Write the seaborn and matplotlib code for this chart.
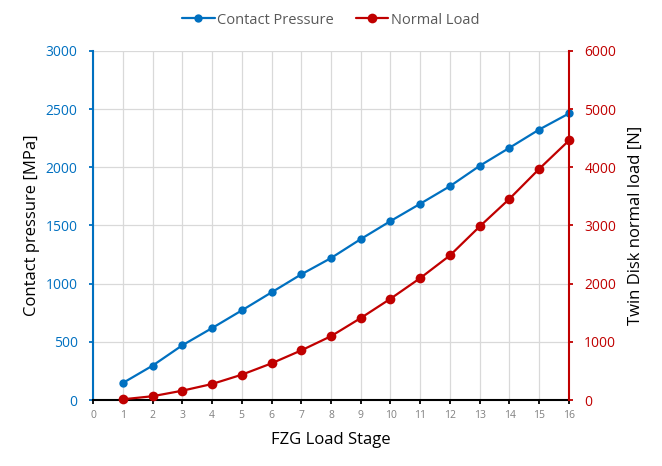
import matplotlib
matplotlib.use("Agg")
import matplotlib.pyplot as plt
import seaborn as sns
import pandas as pd

load_stage = list(range(1, 17))
contact_pressure = [146, 295, 470, 618, 770, 925, 1080, 1220, 1383, 1538, 1687, 1838, 2013, 2168, 2325, 2463]
normal_load = [12, 65, 160, 275, 435, 630, 853, 1097, 1409, 1741, 2096, 2486, 2984, 3459, 3974, 4462]

x_ticks = list(range(0, 17))
left_ticks = [0, 500, 1000, 1500, 2000, 2500, 3000]
right_ticks = [0, 1000, 2000, 3000, 4000, 5000, 6000]

BLUE = "#0070C0"
RED = "#C00000"

sns.set_theme(style="white")
plt.rcParams['font.family'] = ['Open Sans', 'DejaVu Sans']

df = pd.DataFrame({"stage": load_stage, "p": contact_pressure, "F": normal_load})

fig = plt.figure(figsize=(6.62, 4.66), dpi=100)
ax = fig.add_axes([0.1405, 0.1416, 0.719, 0.749])
ax2 = ax.twinx()

sns.lineplot(data=df, x="stage", y="F", ax=ax2, color=RED, marker="o", markersize=7,
             markeredgewidth=0, linewidth=1.6, label="Normal Load", legend=False, clip_on=False, zorder=3)
sns.lineplot(data=df, x="stage", y="p", ax=ax, color=BLUE, marker="o", markersize=6,
             markeredgewidth=0, linewidth=1.6, label="Contact Pressure", legend=False, clip_on=False, zorder=3)

ax.set_xlim(0, 16)
ax.set_ylim(0, 3000)
ax2.set_ylim(0, 6000)
ax.set_xticks(x_ticks)
ax.set_yticks(left_ticks)
ax2.set_yticks(right_ticks)

ax.grid(True, color="#D9D9D9", linewidth=0.9)
ax.set_axisbelow(True)
ax2.grid(False)

for a in (ax, ax2):
    a.spines['top'].set_visible(False)
ax.spines['right'].set_visible(False)
ax.spines['left'].set_color(BLUE)
ax.spines['left'].set_linewidth(1.5)
ax.spines['bottom'].set_color("black")
ax.spines['bottom'].set_linewidth(1.5)
ax2.spines['right'].set_color(RED)
ax2.spines['right'].set_linewidth(1.5)
ax2.spines['left'].set_visible(False)
ax2.spines['bottom'].set_visible(False)

ax.tick_params(axis='y', colors=BLUE, labelsize=10, length=3, width=1.3, pad=8, direction='out', left=True)
ax.tick_params(axis='x', colors="black", labelcolor="#808080", labelsize=7.5, length=3, width=1.3, pad=4, direction='out', bottom=True)
ax2.tick_params(axis='y', colors=RED, labelsize=10, length=3, width=1.3, pad=8, direction='out', right=True)

ax.set_xlabel("FZG Load Stage", fontsize=12, color="black", labelpad=8)
ax.set_ylabel("Contact pressure [MPa]", fontsize=12, color="black", labelpad=4)
ax2.set_ylabel("Twin Disk normal load [N]", fontsize=12, color="black", labelpad=8)

h1, l1 = ax.get_legend_handles_labels()
h2, l2 = ax2.get_legend_handles_labels()
fig.legend(h1 + h2, l1 + l2, loc="center", bbox_to_anchor=(0.5, 0.957), ncol=2, frameon=False,
           fontsize=10.5, handlelength=2.2, handletextpad=0.2, columnspacing=1.5, labelcolor="#595959")

fig.savefig("out.png", dpi=100)
